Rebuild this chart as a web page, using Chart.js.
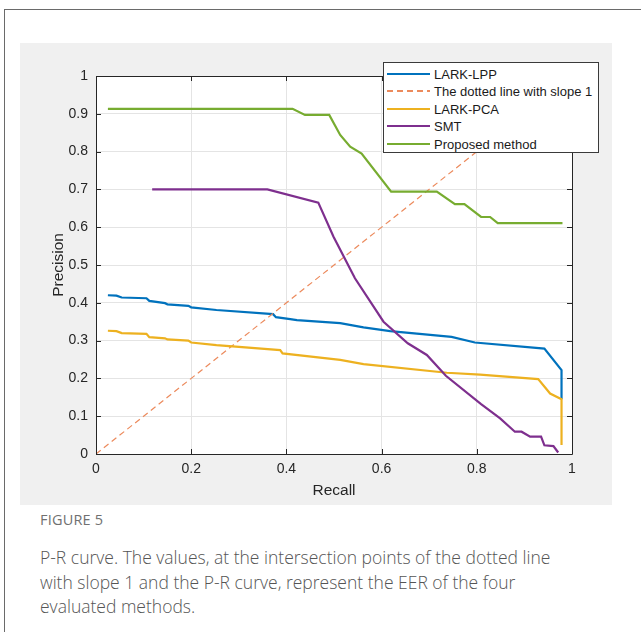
<!DOCTYPE html>
<html>
<head>
<meta charset="utf-8">
<script src="https://cdn.jsdelivr.net/npm/chart.js@4/dist/chart.umd.min.js"></script>
<style>
  html, body { margin: 0; padding: 0; background: #ffffff; overflow: hidden; }
  body { width: 641px; height: 632px; position: relative; }
  #frame { position: absolute; left: 4px; top: 9px; width: 700px; height: 700px;
           border: 1px solid #6a6a6a; box-sizing: border-box; }
  #panel { position: absolute; left: 20px; top: 43px; width: 592px; height: 462px;
           background: #f0f0f0; }
  #panel canvas { position: absolute; left: 0; top: 0; }
  #legend { position: absolute; left: 383px; top: 62px; width: 216px; height: 91px;
            background: #ffffff; border: 1px solid #3a3a3a; box-sizing: border-box;
            font-family: "Liberation Sans", Arial, sans-serif; font-size: 13px; color: #1a1a1a; }
  .row { position: absolute; left: 3px; height: 17px; line-height: 17px; white-space: nowrap; }
  .swatch { position: absolute; left: 0; top: 7px; width: 43px; height: 2px; }
  .row span { position: absolute; left: 47px; top: 0; }
  #fig { position: absolute; left: 40px; top: 510px; font-family: "Open Sans", "Noto Sans", sans-serif;
         font-size: 14.5px; color: #707070; letter-spacing: 0.2px; }
  #caption { position: absolute; left: 40px; top: 545px; width: 600px; white-space: nowrap;
             font-family: "Open Sans", "Noto Sans", sans-serif; font-size: 17.5px; line-height: 24.5px;
             color: #555555; font-weight: 300; }
</style>
</head>
<body>
<div id="frame"></div>
<div id="panel"><canvas id="pr" width="592" height="462"></canvas></div>
<div id="legend"></div>
<div id="fig">FIGURE 5</div>
<div id="caption">P-R curve. The values, at the intersection points of the dotted line<br>with slope 1 and the P-R curve, represent the EER of the four<br>evaluated methods.</div>
<script>
// Precision–recall curves of the four methods
const lppRecall    = [0.025, 0.043, 0.054, 0.106, 0.112, 0.145, 0.150, 0.194, 0.200, 0.253, 0.372, 0.378, 0.408, 0.422, 0.513, 0.562, 0.618, 0.747, 0.796, 0.942, 0.978, 0.978];
const lppPrecision = [0.420, 0.419, 0.414, 0.412, 0.405, 0.399, 0.396, 0.392, 0.388, 0.381, 0.370, 0.362, 0.357, 0.354, 0.346, 0.335, 0.325, 0.310, 0.295, 0.279, 0.222, 0.145];

const pcaRecall    = [0.025, 0.043, 0.054, 0.106, 0.112, 0.145, 0.150, 0.194, 0.200, 0.253, 0.387, 0.392, 0.513, 0.562, 0.737, 0.807, 0.929, 0.954, 0.978, 0.978];
const pcaPrecision = [0.326, 0.325, 0.320, 0.318, 0.309, 0.306, 0.303, 0.300, 0.295, 0.288, 0.275, 0.266, 0.249, 0.238, 0.215, 0.210, 0.198, 0.160, 0.145, 0.024];

const smtRecall    = [0.118, 0.360, 0.467, 0.499, 0.544, 0.604, 0.655, 0.695, 0.735, 0.809, 0.849, 0.880, 0.894, 0.912, 0.935, 0.942, 0.961, 0.971];
const smtPrecision = [0.700, 0.700, 0.665, 0.575, 0.465, 0.350, 0.293, 0.262, 0.207, 0.132, 0.094, 0.059, 0.059, 0.046, 0.046, 0.023, 0.021, 0.004];

const propRecall    = [0.025, 0.413, 0.439, 0.490, 0.513, 0.534, 0.558, 0.620, 0.716, 0.754, 0.774, 0.809, 0.828, 0.844, 0.980];
const propPrecision = [0.913, 0.913, 0.897, 0.897, 0.844, 0.813, 0.795, 0.694, 0.694, 0.661, 0.661, 0.627, 0.627, 0.611, 0.611];

// Reference line with slope 1
const diagRecall    = [0, 1];
const diagPrecision = [0, 1];

const seriesNames = ['LARK-LPP', 'The dotted line with slope 1', 'LARK-PCA', 'SMT', 'Proposed method'];
const seriesColors = ['#0072BD', '#EC8A5C', '#EDB120', '#7E2F8E', '#77AC30'];

const xTicks = [0, 0.2, 0.4, 0.6, 0.8, 1];
const xTickLabels = ['0', '0.2', '0.4', '0.6', '0.8', '1'];
const yTicks = [0, 0.1, 0.2, 0.3, 0.4, 0.5, 0.6, 0.7, 0.8, 0.9, 1];
const yTickLabels = ['0', '0.1', '0.2', '0.3', '0.4', '0.5', '0.6', '0.7', '0.8', '0.9', '1'];

const zip = (xs, ys) => xs.map((x, i) => ({ x, y: ys[i] }));

const curves = [
  { x: lppRecall,  y: lppPrecision,  dash: [],     width: 2.2 },
  { x: diagRecall, y: diagPrecision, dash: [6, 4], width: 1.2 },
  { x: pcaRecall,  y: pcaPrecision,  dash: [],     width: 2.2 },
  { x: smtRecall,  y: smtPrecision,  dash: [],     width: 2.2 },
  { x: propRecall, y: propPrecision, dash: [],     width: 2.2 }
];

const datasets = curves.map((c, i) => ({
  label: seriesNames[i],
  data: zip(c.x, c.y),
  borderColor: seriesColors[i],
  backgroundColor: seriesColors[i],
  borderWidth: c.width,
  borderDash: c.dash,
  pointRadius: 0,
  tension: 0,
  fill: false,
  order: curves.length - i
}));

const axisColor = '#262626';
const tickFont = { family: '"Liberation Sans", Arial, sans-serif', size: 14 };
const titleFont = { family: '"Liberation Sans", Arial, sans-serif', size: 15.5 };

// White plotting area behind the grid
const plotBackground = {
  id: 'plotBackground',
  beforeDraw(chart) {
    const { ctx, chartArea: a } = chart;
    ctx.save();
    ctx.fillStyle = '#ffffff';
    ctx.fillRect(a.left, a.top, a.right - a.left, a.bottom - a.top);
    ctx.restore();
  }
};

// Box around the axes with inward tick marks
const axesBox = {
  id: 'axesBox',
  afterDatasetsDraw(chart) {
    const { ctx, chartArea: a, scales: { x, y } } = chart;
    ctx.save();
    ctx.strokeStyle = axisColor;
    ctx.lineWidth = 1;
    ctx.beginPath();
    ctx.rect(Math.round(a.left) + 0.5, Math.round(a.top) + 0.5,
             Math.round(a.right - a.left), Math.round(a.bottom - a.top));
    ctx.stroke();
    ctx.beginPath();
    const len = 5;
    xTicks.forEach(v => {
      const px = Math.round(x.getPixelForValue(v)) + 0.5;
      ctx.moveTo(px, a.bottom); ctx.lineTo(px, a.bottom - len);
      ctx.moveTo(px, a.top); ctx.lineTo(px, a.top + len);
    });
    yTicks.forEach(v => {
      const py = Math.round(y.getPixelForValue(v)) + 0.5;
      ctx.moveTo(a.left, py); ctx.lineTo(a.left + len, py);
      ctx.moveTo(a.right, py); ctx.lineTo(a.right - len, py);
    });
    ctx.stroke();
    ctx.restore();
  }
};

new Chart(document.getElementById('pr'), {
  type: 'line',
  data: { datasets },
  plugins: [plotBackground, axesBox],
  options: {
    responsive: false,
    animation: false,
    devicePixelRatio: 1,
    layout: { padding: { left: 0, top: 33, right: 40, bottom: 0 } },
    plugins: { legend: { display: false }, tooltip: { enabled: false } },
    scales: {
      x: {
        type: 'linear', min: 0, max: 1,
        afterFit(s) { s.height = 51; },
        afterBuildTicks(s) { s.ticks = xTicks.map(v => ({ value: v })); },
        grid: { color: '#e4e4e4', drawTicks: false },
        border: { display: false },
        ticks: { color: axisColor, font: tickFont, padding: 7, maxRotation: 0,
                 callback: (v) => xTickLabels[xTicks.indexOf(v)] },
        title: { display: true, text: 'Recall', color: axisColor, font: titleFont,
                 padding: { top: 0, bottom: 5 } }
      },
      y: {
        type: 'linear', min: 0, max: 1,
        afterFit(s) { s.width = 76; },
        afterBuildTicks(s) { s.ticks = yTicks.map(v => ({ value: v })); },
        grid: { color: '#e4e4e4', drawTicks: false },
        border: { display: false },
        ticks: { color: axisColor, font: tickFont, padding: 8,
                 callback: (v) => yTickLabels[yTicks.indexOf(v)] },
        title: { display: true, text: 'Precision', color: axisColor, font: titleFont,
                 padding: { top: 29, bottom: 0 } }
      }
    }
  }
});

// Legend box
const legend = document.getElementById('legend');
seriesNames.forEach((name, i) => {
  const row = document.createElement('div');
  row.className = 'row';
  row.style.top = (3 + i * 17.4) + 'px';
  const sw = document.createElement('div');
  sw.className = 'swatch';
  if (i === 1) {
    sw.style.height = '1.5px';
    sw.style.background = 'repeating-linear-gradient(90deg, ' + seriesColors[i] + ' 0 6px, transparent 6px 10px)';
  } else {
    sw.style.background = seriesColors[i];
  }
  const tx = document.createElement('span');
  tx.textContent = name;
  row.appendChild(sw);
  row.appendChild(tx);
  legend.appendChild(row);
});
</script>
</body>
</html>
